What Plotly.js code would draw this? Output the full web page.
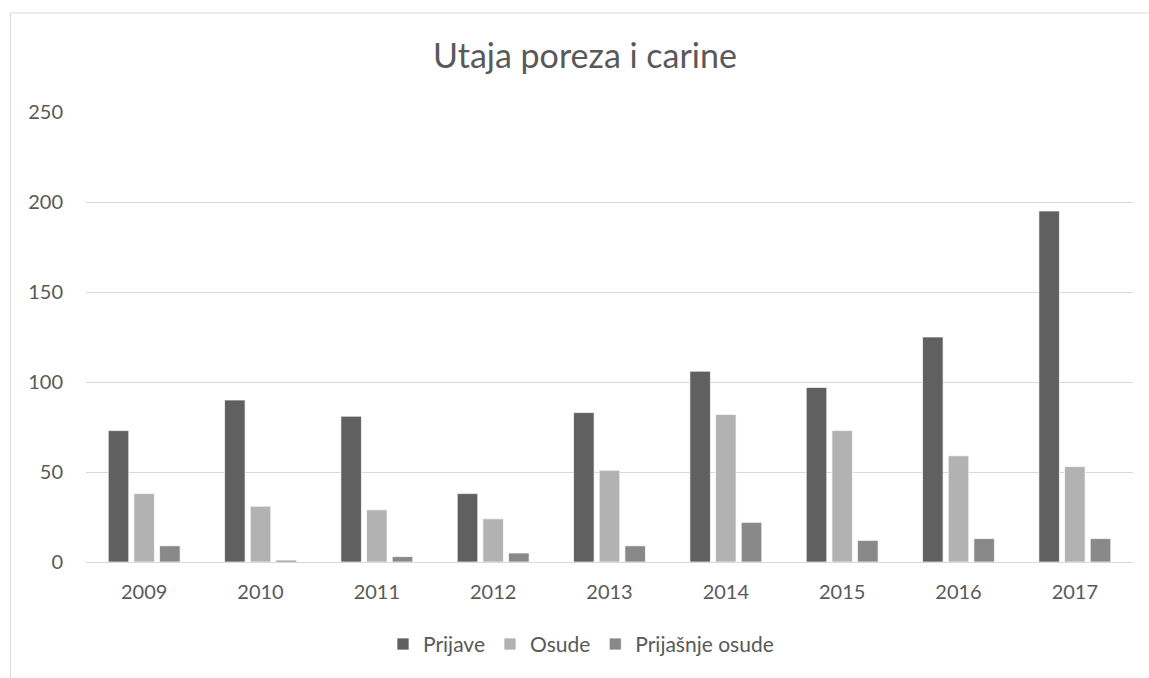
<!DOCTYPE html>
<html><head><meta charset="utf-8">
<script src="https://cdn.plot.ly/plotly-3.0.1.min.js"></script>
<style>html,body{margin:0;padding:0;background:#fff}#chart{width:1149px;height:678px}</style>
</head><body><div id="chart"></div>
<script>
const years = ['2009','2010','2011','2012','2013','2014','2015','2016','2017'];
const prijave = [73, 90, 81, 38, 83, 106, 97, 125, 195];
const osude = [38, 31, 29, 24, 51, 82, 73, 59, 53];
const prijasnjeOsude = [9, 1, 3, 5, 9, 22, 12, 13, 13];
const seriesNames = ['Prijave', 'Osude', 'Prijašnje osude'];
const colors = ['#606060', '#b2b2b2', '#898989'];
const font = 'Lato, "Open Sans", sans-serif';

const data = [prijave, osude, prijasnjeOsude].map((v, i) => ({
  type: 'bar', x: years, y: v, name: seriesNames[i],
  marker: {color: colors[i], line: {color: '#ffffff', width: 0.7}},
  hoverinfo: 'x+y+name'
}));

const W = 1149, H = 678, L = 86, R = 16, T = 111.7, B = 115.5;
const pw = W - L - R, ph = H - T - B;
const px = x => (x - L) / pw;
const py = y => (H - B - y) / ph;

const layout = {
  width: W, height: H,
  margin: {l: L, r: R, t: T, b: B},
  paper_bgcolor: '#fff', plot_bgcolor: '#fff',
  font: {family: font, color: '#595959', size: 20},
  title: {text: 'Utaja poreza i carine', font: {family: font, size: 34, color: '#595959'},
          x: 585 / W, xanchor: 'center', xref: 'container', y: 1 - 56 / H, yanchor: 'middle'},
  barmode: 'group', bargap: 0.338, bargroupgap: 0.2,
  xaxis: {type: 'category', showgrid: false, zeroline: false, showline: false,
          ticks: '', ticklabelstandoff: 16, tickfont: {size: 20, color: '#595959'}},
  yaxis: {range: [0, 250], dtick: 50, tick0: 0, showgrid: true, gridcolor: '#d9d9d9', gridwidth: 1,
          zeroline: true, zerolinecolor: '#d9d9d9', zerolinewidth: 1, showline: false,
          ticks: '', ticklabelstandoff: 22, tickfont: {size: 20, color: '#595959'}},
  showlegend: true,
  legend: {orientation: 'h', x: px(581), xanchor: 'center', y: py(645), yanchor: 'middle',
           font: {size: 21, color: '#595959'}, itemwidth: 30, traceorder: 'normal'},
  shapes: [
    {type: 'line', xref: 'paper', yref: 'paper', x0: px(10.5), x1: px(10.5), y0: py(12.5), y1: py(690),
     line: {color: '#d9d9d9', width: 1}},
    {type: 'line', xref: 'paper', yref: 'paper', x0: px(10.5), x1: px(1160), y0: py(12.5), y1: py(12.5),
     line: {color: '#d9d9d9', width: 1}}
  ]
};
Plotly.newPlot('chart', data, layout, {displayModeBar: false, staticPlot: true});
</script></body></html>
